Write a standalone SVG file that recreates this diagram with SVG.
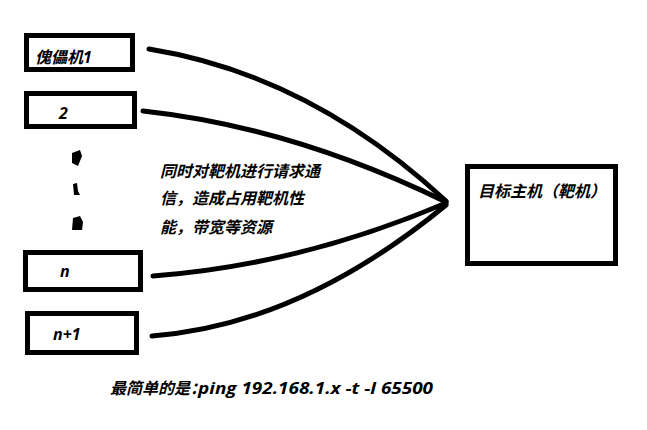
<svg xmlns="http://www.w3.org/2000/svg" width="647" height="430" viewBox="0 0 647 430">
<style>
.box{fill:#fff;stroke:#000;stroke-width:5}
.t{font-family:"Microsoft YaHei","Noto Sans CJK SC","Liberation Sans",sans-serif;font-style:italic;font-weight:bold;fill:#000}
.l{font-family:"Open Sans","Liberation Sans",sans-serif;font-style:italic;font-weight:bold;fill:#000}
.c{fill:none;stroke:#000;stroke-width:5;stroke-linecap:round}
</style>
<rect width="647" height="430" fill="#fff"/>
<g id="connectors">
<path class="c" d="M149,49 Q310,75 446,201"/>
<path class="c" d="M143,111 Q292,127 446,202"/>
<path class="c" d="M153,276 Q300,265 446,203"/>
<path class="c" d="M152,336 Q300,325 446,205"/>
</g>
<g id="node1"><rect class="box" x="26.5" y="35.5" width="106" height="34"/><text class="t" x="35" y="63" font-size="16">傀儡机<tspan class="l">1</tspan></text></g>
<g id="node2"><rect class="box" x="26.5" y="93.5" width="108" height="33"/><text class="l" x="59" y="119" font-size="16">2</text></g>
<g id="dots">
<path d="M72,153 L80,150 L82,156 L78,166 L72,163 Z" fill="#000"/>
<path d="M73,184 L77,183 L78,191 L80,195 L74,195 Z" fill="#000"/>
<path d="M73,218 L80,216 L83,222 L82,230 L72,230 Z" fill="#000"/>
</g>
<g id="noden"><rect class="box" x="25.5" y="252.5" width="115" height="37"/><text class="l" x="60" y="277" font-size="16">n</text></g>
<g id="noden1"><rect class="box" x="27.5" y="313.5" width="109" height="39"/><text class="l" x="53" y="340" font-size="16">n+1</text></g>
<g id="target"><rect class="box" x="467.5" y="166.5" width="148" height="97"/><text class="t" x="478" y="197" font-size="16">目标主机（靶机）</text></g>
<g id="note">
<text class="t" x="160" y="177" font-size="16">同时对靶机进行请求通</text>
<text class="t" x="160" y="204" font-size="16">信，造成占用靶机性</text>
<text class="t" x="160" y="233" font-size="16">能，带宽等资源</text>
</g>
<g id="cmd"><text class="t" x="110" y="394" font-size="16">最简单的是：<tspan class="l" x="198" textLength="235" lengthAdjust="spacingAndGlyphs">ping 192.168.1.x -t -l 65500</tspan></text></g>
</svg>
